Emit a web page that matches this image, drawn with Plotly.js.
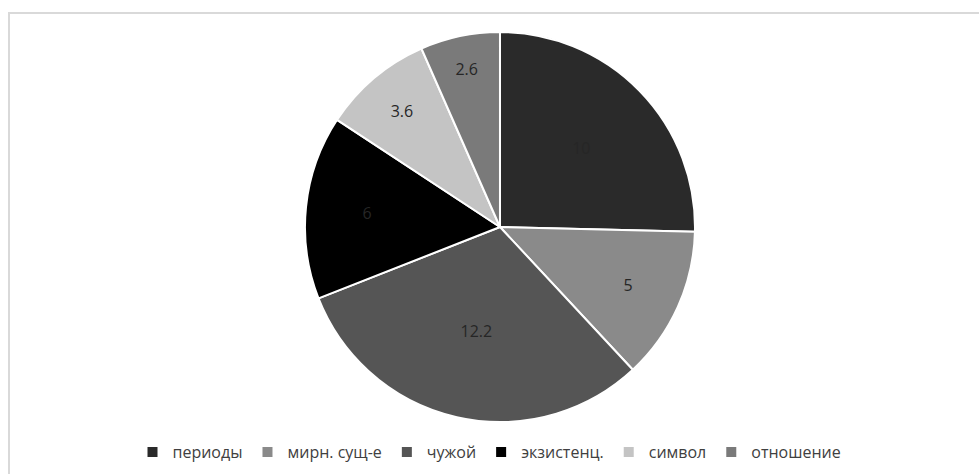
<!DOCTYPE html>
<html>
<head>
<meta charset="utf-8">
<script src="https://cdn.plot.ly/plotly-3.0.1.min.js"></script>
<style>
html,body{margin:0;padding:0;background:#fff;}
#frame{position:absolute;left:8px;top:12px;width:980px;height:470px;border-left:2px solid #d9d9d9;border-top:2px solid #d9d9d9;}
#chart{position:absolute;left:0;top:0;width:979px;height:474px;}
</style>
</head>
<body>
<div id="frame"></div>
<div id="chart"></div>
<script>
const categories = ["периоды", "мирн. сущ-е", "чужой", "экзистенц.", "символ", "отношение"];
const values = [10, 5, 12.2, 6, 3.6, 2.6];
const colors = ["#2a2a2a", "#8a8a8a", "#555555", "#000000", "#c4c4c4", "#7a7a7a"];

const trace = {
  type: "pie",
  labels: categories,
  values: values,
  sort: false,
  direction: "clockwise",
  rotation: 0,
  marker: { colors: colors, line: { color: "#ffffff", width: 2 } },
  textinfo: "value",
  textposition: "inside",
  insidetextorientation: "horizontal",
  textfont: { family: "Open Sans, Liberation Sans, sans-serif", size: 16, color: "#262626" },
  hoverinfo: "label+value",
  domain: { x: [0.3115, 0.7099], y: [0.1097, 0.9325] }
};

const layout = {
  width: 979,
  height: 474,
  margin: { l: 0, r: 0, t: 0, b: 0 },
  paper_bgcolor: "rgba(0,0,0,0)",
  plot_bgcolor: "rgba(0,0,0,0)",
  showlegend: true,
  legend: {
    orientation: "h",
    x: 0.5,
    xanchor: "center",
    y: 0.046,
    yanchor: "middle",
    font: { family: "Open Sans, Liberation Sans, sans-serif", size: 16, color: "#404040" },
    itemwidth: 30,
    traceorder: "normal"
  }
};

Plotly.newPlot("chart", [trace], layout, { displayModeBar: false, staticPlot: true });
</script>
</body>
</html>
